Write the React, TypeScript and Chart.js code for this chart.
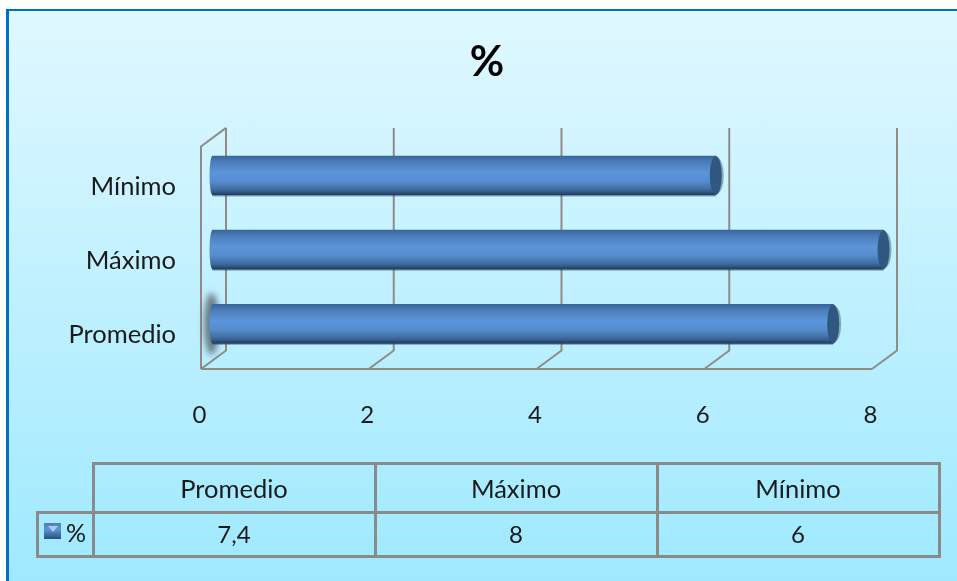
import React, { useEffect, useRef } from "react";
import { Chart, registerables } from "chart.js";

Chart.register(...registerables);

const title = "%";
const seriesName = "%";
const categories = ["Promedio", "Máximo", "Mínimo"];
const values = [7.4, 8, 6];

const FONT = "Lato, 'Open Sans', sans-serif";
const GRID = "#8f8c88";
const DEPTH_X = 25;
const DEPTH_Y = 18.5;
const BAR_DX = 11.5;
const BAR_DY = -11;

function barFill(ctx: CanvasRenderingContext2D, y: number, h: number) {
  const g = ctx.createLinearGradient(0, y - h / 2, 0, y + h / 2);
  g.addColorStop(0, "#39659a");
  g.addColorStop(0.14, "#4a7cb8");
  g.addColorStop(0.42, "#5c95da");
  g.addColorStop(0.66, "#548ccc");
  g.addColorStop(0.87, "#3d6a9e");
  g.addColorStop(1, "#1f3c5f");
  return g;
}

const cylinder3D = {
  id: "cylinder3D",
  beforeDraw(chart: any) {
    // let the category labels use the room left of the axis box
    chart.scales.y.left = 0;
  },
  beforeDatasetsDraw(chart: any) {
    const { ctx, scales } = chart;
    const xs = scales.x;
    const area = chart.chartArea;
    const bottom = area.bottom - 3;
    const top = area.top - 3;
    ctx.save();
    ctx.strokeStyle = GRID;
    ctx.lineWidth = 2;
    const ticks = xs.ticks.map((t: any) => xs.getPixelForValue(t.value));
    ctx.beginPath();
    ticks.forEach((px: number) => {
      ctx.moveTo(px, bottom);
      ctx.lineTo(px + DEPTH_X, bottom - DEPTH_Y);
      ctx.lineTo(px + DEPTH_X, top - DEPTH_Y);
    });
    const p0 = ticks[0];
    ctx.moveTo(p0, bottom);
    ctx.lineTo(p0, top);
    ctx.lineTo(p0 + DEPTH_X, top - DEPTH_Y);
    ctx.moveTo(p0, bottom);
    ctx.lineTo(ticks[ticks.length - 1], bottom);
    ctx.stroke();
    ctx.restore();

    ctx.save();
    ctx.translate(BAR_DX, BAR_DY);
    const meta = chart.getDatasetMeta(0);
    // soft shadow at the root of the first bar
    const first = meta.data[0];
    ctx.save();
    ctx.filter = "blur(3px)";
    ctx.fillStyle = "rgba(85,95,100,0.8)";
    ctx.beginPath();
    ctx.ellipse(first.base - 1, first.y, 7.5, 31, 0, 0, Math.PI * 2);
    ctx.fill();
    ctx.restore();
    meta.data.forEach((bar: any) => {
      // contact shadow below the bar and behind its end
      ctx.fillStyle = "rgba(50,75,100,0.45)";
      ctx.fillRect(bar.base, bar.y + bar.height / 2 - 1, bar.x - bar.base, 2.5);
      ctx.beginPath();
      ctx.ellipse(bar.x + 2, bar.y, 6, bar.height / 2 - 2, 0, 0, Math.PI * 2);
      ctx.fill();
      // rounded root of the cylinder
      ctx.fillStyle = barFill(ctx, bar.y, bar.height);
      ctx.beginPath();
      ctx.ellipse(bar.base, bar.y, 3, bar.height / 2, 0, 0, Math.PI * 2);
      ctx.fill();
    });
  },
  afterDatasetsDraw(chart: any) {
    const { ctx } = chart;
    chart.getDatasetMeta(0).data.forEach((bar: any) => {
      ctx.fillStyle = "#30577f";
      ctx.beginPath();
      ctx.ellipse(bar.x, bar.y, 6, bar.height / 2, 0, 0, Math.PI * 2);
      ctx.fill();
    });
    ctx.restore();
  },
};

const colX = [93, 375, 657, 939];
const lineStyle = "#8a8a8a";
const cell = (left: number, top: number, width: number, height: number, size = 25.5): React.CSSProperties => ({
  position: "absolute",
  left,
  top,
  width,
  height,
  lineHeight: height + "px",
  textAlign: "center",
  fontFamily: FONT,
  fontSize: size,
  color: "#1a1a1a",
});
const rule = (left: number, top: number, width: number, height: number): React.CSSProperties => ({
  position: "absolute",
  left,
  top,
  width,
  height,
  background: lineStyle,
});

export default function App() {
  const ref = useRef<HTMLCanvasElement>(null);
  useEffect(() => {
    document.body.style.margin = "0";
    const chart = new Chart(ref.current!, {
      type: "bar",
      plugins: [cylinder3D],
      data: {
        labels: categories,
        datasets: [
          {
            label: seriesName,
            data: values,
            barThickness: 39,
            clip: false,
            backgroundColor: (c: any) => {
              const y = c.chart.scales?.y;
              if (!y || c.dataIndex === undefined) return "#4f81bd";
              const py = y.getPixelForValue(c.dataIndex);
              if (!Number.isFinite(py)) return "#4f81bd";
              return barFill(c.chart.ctx, py, 39);
            },
          } as any,
        ],
      },
      options: {
        indexAxis: "y",
        responsive: false,
        animation: false,
        layout: { padding: { left: 102, right: 85, top: 0, bottom: 0 } },
        plugins: {
          legend: { display: false },
          tooltip: { enabled: false },
          title: {
            display: true,
            text: title,
            color: "#000",
            font: { family: FONT, size: 42, weight: "bold", lineHeight: 1.2 },
            padding: { top: 37, bottom: 62 },
          },
        },
        scales: {
          x: {
            min: 0,
            max: 8,
            ticks: {
              stepSize: 2,
              padding: 29,
              labelOffset: -1.5,
              color: "#1a1a1a",
              font: { family: FONT, size: 24 },
              maxRotation: 0,
            },
            grid: { display: false, drawTicks: false },
            border: { display: false },
            afterFit: (s: any) => {
              s.height = 209;
            },
          },
          y: {
            reverse: true,
            ticks: { padding: 25, color: "#1a1a1a", font: { family: FONT, size: 25.5 } },
            grid: { display: false, drawTicks: false },
            border: { display: false },
            afterFit: (s: any) => {
              s.width = 99;
            },
          },
        },
      } as any,
    });
    return () => chart.destroy();
  }, []);

  return (
    <div style={{ position: "fixed", left: 0, top: 0, width: 957, height: 581, overflow: "hidden", background: "#fff" }}>
      <div
        style={{
          position: "absolute",
          left: 6,
          top: 9,
          width: 948,
          height: 570,
          borderTop: "2px solid #0070c0",
          borderLeft: "3px solid #0070c0",
          background: "linear-gradient(180deg,#e0f8ff 0%,#9fe9ff 100%)",
        }}
      />
      <canvas ref={ref} width={957} height={581} style={{ position: "absolute", left: 0, top: 0, display: "block" }} />
      {/* data table */}
      <div style={rule(92, 462, 848, 3)} />
      <div style={rule(36, 511, 904, 3)} />
      <div style={rule(36, 555, 904, 3)} />
      <div style={rule(36, 511, 3, 47)} />
      {colX.map((x) => (
        <div key={x} style={rule(x - 1, 462, 3, 96)} />
      ))}
      {categories.map((c, i) => (
        <div key={c} style={cell(colX[i], 465, colX[i + 1] - colX[i], 46)}>
          {c}
        </div>
      ))}
      {values.map((v, i) => (
        <div key={categories[i]} style={cell(colX[i], 514, colX[i + 1] - colX[i], 40, 24)}>
          {String(v).replace(".", ",")}
        </div>
      ))}
      <div
        style={{
          position: "absolute",
          left: 44,
          top: 523,
          width: 17,
          height: 16,
          background: "linear-gradient(180deg,#4f7fb5 0%,#5e93d5 40%,#3a6598 80%,#2c4f78 100%)",
        }}
      />
      <div
        style={{
          position: "absolute",
          left: 48,
          top: 526,
          width: 0,
          height: 0,
          borderLeft: "5px solid transparent",
          borderRight: "5px solid transparent",
          borderTop: "6px solid #a8cdf5",
        }}
      />
      <div style={cell(63, 514, 26, 36, 25)}>{seriesName}</div>
    </div>
  );
}
